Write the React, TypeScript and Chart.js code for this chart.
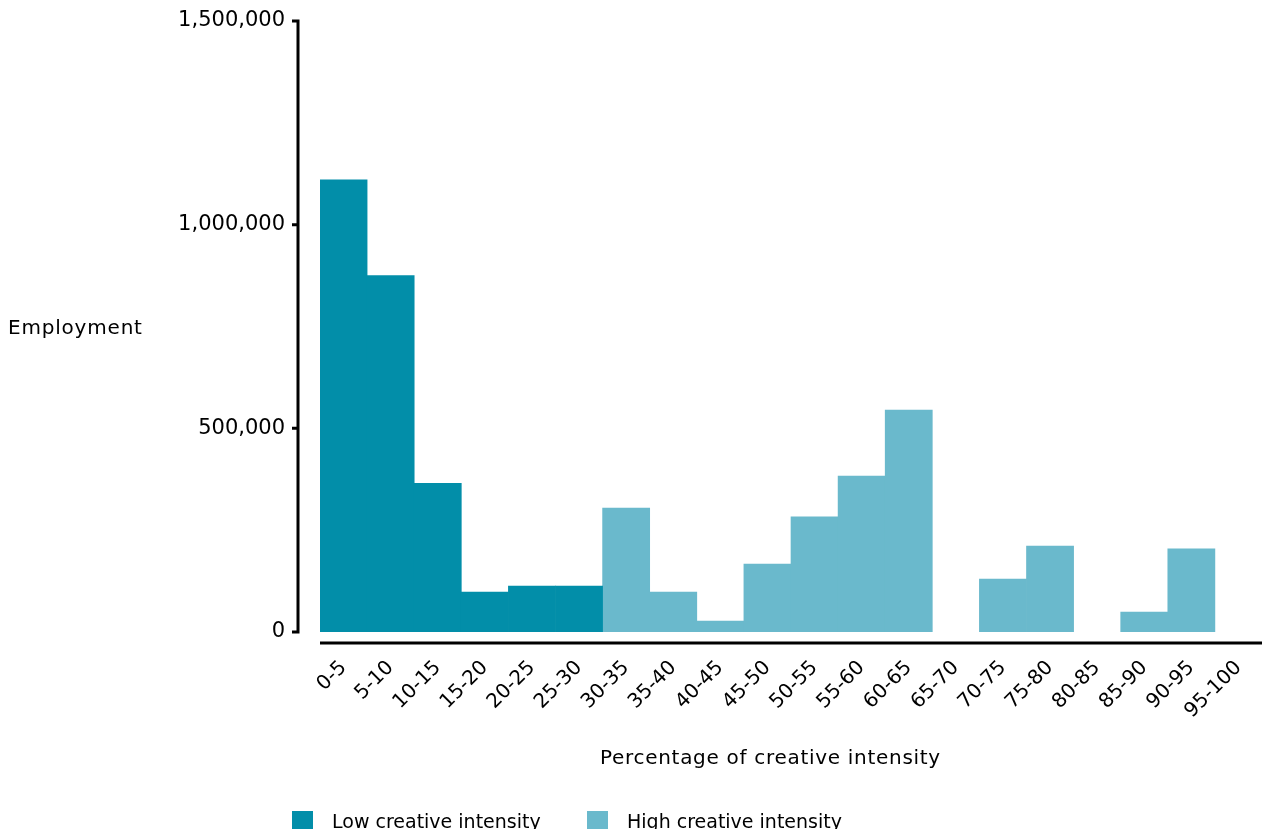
import React, { useEffect, useRef } from "react";
import { Chart, registerables } from "chart.js";

Chart.register(...registerables);

const categories = [
  "0-5", "5-10", "10-15", "15-20", "20-25", "25-30", "30-35", "35-40", "40-45", "45-50",
  "50-55", "55-60", "60-65", "65-70", "70-75", "75-80", "80-85", "85-90", "90-95", "95-100",
];

const lowIntensity = [
  1110000, 875000, 365000, 98000, 113000, 113000, null, null, null, null,
  null, null, null, null, null, null, null, null, null, null,
];

const highIntensity = [
  null, null, null, null, null, null, 304000, 98000, 27000, 167000,
  283000, 383000, 545000, null, 130000, 211000, null, 49000, 204000, null,
];

const yTicks = [0, 500000, 1000000, 1500000];

const seriesNames = ["Low creative intensity", "High creative intensity"];
const seriesColors = ["#028EA9", "#6AB9CC"];

const FONT = "'DejaVu Sans', sans-serif";

const axisPlugin = {
  id: "customAxes",
  afterDraw(chart: any) {
    const { ctx, chartArea, scales } = chart;
    const y = scales.y;
    ctx.save();
    ctx.strokeStyle = "#000";
    ctx.lineWidth = 3;
    ctx.lineCap = "butt";
    const ax = chartArea.left - 22;
    const top = y.getPixelForValue(y.max);
    const bot = y.getPixelForValue(0);
    ctx.beginPath();
    ctx.moveTo(ax, top - 1.5);
    ctx.lineTo(ax, bot + 1.5);
    y.ticks.forEach((t: any) => {
      const py = y.getPixelForValue(t.value);
      ctx.moveTo(ax - 6, py);
      ctx.lineTo(ax + 1.5, py);
    });
    ctx.stroke();
    const xy = chartArea.bottom + 11;
    ctx.beginPath();
    ctx.moveTo(chartArea.left, xy);
    ctx.lineTo(chart.width, xy);
    ctx.stroke();
    ctx.restore();
  },
};

export default function App() {
  const canvasRef = useRef<HTMLCanvasElement | null>(null);

  useEffect(() => {
    document.body.style.margin = "0";
    const canvas = canvasRef.current;
    if (!canvas) return;
    const chart = new Chart(canvas, {
      type: "bar",
      data: {
        labels: categories,
        datasets: [
          {
            label: seriesNames[0],
            data: lowIntensity,
            backgroundColor: seriesColors[0],
            borderWidth: 0,
            barPercentage: 1,
            categoryPercentage: 1,
            grouped: false,
          } as any,
          {
            label: seriesNames[1],
            data: highIntensity,
            backgroundColor: seriesColors[1],
            borderWidth: 0,
            barPercentage: 1,
            categoryPercentage: 1,
            grouped: false,
          } as any,
        ],
      },
      options: {
        responsive: false,
        animation: false,
        devicePixelRatio: 1,
        layout: { padding: { top: 21, right: -5, left: 0, bottom: 0 } },
        plugins: {
          legend: { display: false },
          tooltip: { enabled: false },
          title: { display: false },
        },
        scales: {
          x: {
            grid: { display: false, drawTicks: false },
            border: { display: false },
            ticks: {
              autoSkip: false,
              maxRotation: 45,
              minRotation: 45,
              padding: 24,
              color: "#000",
              font: { family: FONT, size: 20 },
            },
            afterFit(scale: any) {
              scale.height = 197;
              scale.paddingLeft = 0;
              scale.paddingRight = 0;
            },
          },
          y: {
            min: 0,
            max: 1500000,
            grid: { display: false, drawTicks: false },
            border: { display: false },
            afterBuildTicks(scale: any) {
              scale.ticks = yTicks.map((v) => ({ value: v }));
            },
            ticks: {
              padding: 35,
              color: "#000",
              font: { family: FONT, size: 21 },
              callback: (v: any) => Number(v).toLocaleString("en-US"),
            },
            afterFit(scale: any) {
              scale.width = 320;
              scale.paddingTop = 0;
              scale.paddingBottom = 0;
            },
          },
        },
      },
      plugins: [axisPlugin],
    });
    return () => chart.destroy();
  }, []);

  const textBase: React.CSSProperties = {
    position: "absolute",
    fontFamily: FONT,
    color: "#000",
    lineHeight: "20px",
    whiteSpace: "nowrap",
  };

  return (
    <div style={{ position: "relative", width: 1262, height: 829, overflow: "hidden", background: "#fff" }}>
      <canvas ref={canvasRef} width={1262} height={829} style={{ display: "block" }} />
      <div style={{ ...textBase, left: 8, top: 317, fontSize: 20, letterSpacing: "0.8px" }}>Employment</div>
      <div style={{ ...textBase, left: 600, top: 747, fontSize: 20, letterSpacing: "0.7px" }}>
        Percentage of creative intensity
      </div>
      <div style={{ position: "absolute", left: 292, top: 811, width: 21, height: 21, background: seriesColors[0] }} />
      <div style={{ ...textBase, left: 332, top: 811, fontSize: 19 }}>{seriesNames[0]}</div>
      <div style={{ position: "absolute", left: 587, top: 811, width: 21, height: 21, background: seriesColors[1] }} />
      <div style={{ ...textBase, left: 627, top: 811, fontSize: 19 }}>{seriesNames[1]}</div>
    </div>
  );
}
